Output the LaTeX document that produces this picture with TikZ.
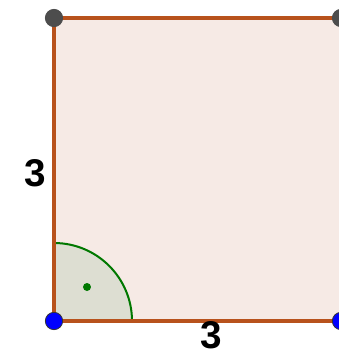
\documentclass[tikz,border=0pt]{standalone}
\usepackage{fontspec}
\setmainfont{Liberation Sans}
\definecolor{edgebrown}{RGB}{184,82,28}
\definecolor{facepink}{RGB}{246,234,229}
\definecolor{anglegreen}{RGB}{0,120,0}
\definecolor{anglefill}{RGB}{221,222,210}
\definecolor{ptgray}{RGB}{77,77,77}
\definecolor{ptblue}{RGB}{0,0,255}
\tikzset{
  side/.style={draw=edgebrown,line width=2.5pt},
  pt/.style={circle,minimum size=13pt,inner sep=0pt,draw=black!70,line width=0.6pt},
  lbl/.style={font=\fontsize{29}{29}\selectfont\bfseries,inner sep=0pt}
}
\begin{document}
\begin{tikzpicture}[x=0.75pt,y=-0.75pt]
\useasboundingbox (0,0) rectangle (339,351);

\coordinate (A) at (54,321);
\coordinate (B) at (341,321);
\coordinate (C) at (341,18);
\coordinate (D) at (54,18);

\fill[facepink] (A) -- (B) -- (C) -- (D) -- cycle;

% right angle at A
\fill[anglefill] (A) -- ++(78,0) arc[start angle=0,end angle=-90,radius=78] -- cycle;
\draw[anglegreen,line width=1.5pt] (A) ++(78,0) arc[start angle=0,end angle=-90,radius=78];
\fill[anglegreen] (87,287) circle (4);

\draw[side] (A) -- (B) -- (C) -- (D) -- cycle;

\node[lbl] (left) at (35,173) {3};
\node[lbl] (bottom) at (211,335) {3};

\node[pt,fill=ptgray] (pD) at (D) {};
\node[pt,fill=ptgray] (pC) at (C) {};
\node[pt,fill=ptblue,draw=black!80] (pA) at (A) {};
\node[pt,fill=ptblue,draw=black!80] (pB) at (B) {};
\end{tikzpicture}
\end{document}
